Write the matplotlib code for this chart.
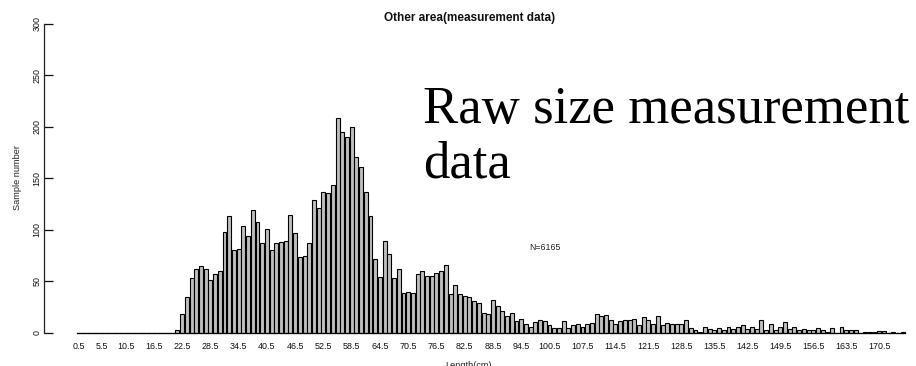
import numpy as np
import matplotlib
matplotlib.use('Agg')
import matplotlib.pyplot as plt

# length classes (cm), one bar per 1 cm class, named by class mid point
length_class = np.arange(176) + 0.5

# sample counts per length class
counts = [0] * 21 + [
    3, 18, 35, 53, 62, 65, 62, 51, 57, 60,
    98, 113, 80, 81, 104, 94, 119, 108, 87, 101,
    80, 87, 88, 89, 114, 97, 74, 75, 87, 129,
    121, 137, 136, 144, 209, 195, 190, 200, 171, 161,
    137, 113, 72, 54, 89, 76, 53, 62, 39, 40,
    39, 57, 60, 55, 55, 58, 60, 66, 38, 46,
    38, 36, 35, 31, 29, 19, 18, 32, 26, 21,
    16, 19, 11, 13, 8, 6, 10, 12, 11, 7,
    5, 5, 11, 5, 7, 8, 6, 8, 9, 18,
    16, 17, 12, 8, 11, 12, 12, 13, 7, 15,
    12, 8, 16, 7, 9, 8, 8, 8, 12, 5,
    3, 1, 6, 4, 3, 5, 3, 6, 4, 6,
    7, 4, 6, 4, 12, 3, 8, 3, 6, 10,
    4, 6, 3, 4, 3, 3, 5, 3, 1, 5,
    0, 6, 3, 3, 3, 0, 1, 1, 1, 2,
    2, 0, 1, 0, 1]

# class names that get printed under the bars
length_ticks = [0.5, 5.5, 10.5, 16.5, 22.5, 28.5, 34.5, 40.5, 46.5, 52.5,
                58.5, 64.5, 70.5, 76.5, 82.5, 88.5, 94.5, 100.5, 107.5,
                114.5, 121.5, 128.5, 135.5, 142.5, 149.5, 156.5, 163.5, 170.5]
y_ticks = [0, 50, 100, 150, 200, 250, 300]

n_total = 6165

plt.rcParams['font.family'] = ['Liberation Sans', 'DejaVu Sans']

W, H = 916, 366
fig = plt.figure(figsize=(W / 100, H / 100), dpi=100)

# axes: y 0..300 spans pixel rows 332.7..24, x from pixel 44 to the right edge
y0, y1 = 332.7, 24.0
ax = fig.add_axes([44 / W, (H - y0) / H, (W - 44) / W, (y0 - y1) / H])

bar_w = 0.833
ax.bar(length_class, counts, width=bar_w, color='#bebebe', edgecolor='black',
       linewidth=0.8, clip_on=False)
# empty classes still show as a flat line along zero
ax.plot([length_class[0] - bar_w / 2, length_class[-1] + bar_w / 2], [0, 0],
        color='black', linewidth=0.9, clip_on=False)

pitch = 4.71
ax.set_xlim(0.5 - (78.5 - 44) / pitch, 0.5 + (W - 78.5) / pitch)
ax.set_ylim(0, 300)

for side in ['top', 'right', 'bottom']:
    ax.spines[side].set_visible(False)
ax.spines['left'].set_color('#222222')
ax.spines['left'].set_linewidth(0.9)

ax.set_yticks(y_ticks)
ax.set_yticklabels([str(v) for v in y_ticks], rotation=90, va='center')
ax.tick_params(axis='y', direction='in', length=6.5, width=0.9, pad=2,
               labelsize=6.4, colors='#111111')

ax.set_xticks(length_ticks)
ax.set_xticklabels([str(v) for v in length_ticks])
ax.tick_params(axis='x', length=0, pad=6.5, labelsize=6.4, colors='#111111')

ax.text(99.5, 83, 'N=%d' % n_total, fontsize=6.3, color='#222222',
        ha='center', va='center')

fig.text(18 / W, 1 - 178 / H, 'Sample number', rotation=90, fontsize=6.6,
         ha='center', va='center', color='#222222')
fig.text(469 / W, 1 - 361 / H, 'Length(cm)', fontsize=6.6, ha='center',
         va='top', color='#222222')
fig.text(470 / W, 1 - 18 / H, 'Other area(measurement data)', fontsize=8.5,
         fontweight='bold', ha='center', va='center', color='#111111')

# overlaid caption
fig.text(423 / W, 1 - 123 / H, 'Raw size measurement', fontsize=38,
         family='Liberation Serif', ha='left', va='baseline')
fig.text(423 / W, 1 - 178 / H, 'data', fontsize=38,
         family='Liberation Serif', ha='left', va='baseline')

fig.savefig('out.png', dpi=100)
